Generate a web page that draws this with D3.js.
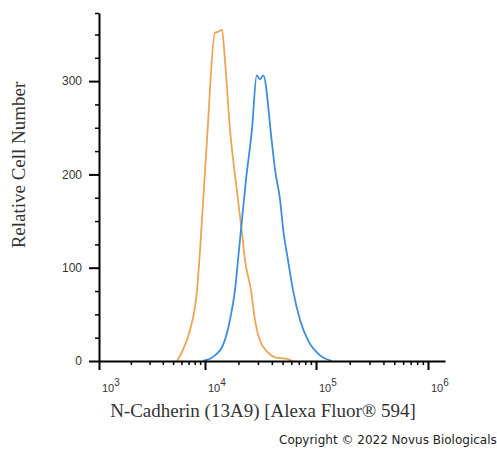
<!DOCTYPE html>
<html>
<head>
<meta charset="utf-8">
<script src="https://cdn.jsdelivr.net/npm/d3@7/dist/d3.min.js"></script>
<style>
  body { margin: 0; background: #fff; }
</style>
</head>
<body>
<svg id="chart"></svg>
<script>
// isotype control (orange) and N-Cadherin stained (blue) histograms
var orangeX = [5450, 6190, 7210, 8410, 8980, 10420, 12300, 13200, 14230,
               15140, 16790, 18630, 21410, 22920, 25950, 28200, 29400,
               31270, 36210, 42740, 55960, 60800];
var orangeY = [0, 12, 33, 76, 119, 237, 352, 353, 355,
               322, 248, 199, 140, 108, 76, 44, 33,
               22, 10, 4, 2, 0];

var blueX = [9570, 12300, 14530, 16790, 18630, 20240, 23390, 26480,
             29230, 31270, 33500, 39830, 42740, 47420, 50760, 55960,
             62100, 71800, 84800, 108600, 139000];
var blueY = [0, 6, 17, 44, 76, 119, 194, 248,
             306, 302, 306, 237, 205, 173, 140, 108,
             76, 44, 22, 6, 0];

var yMajor = [0, 100, 200, 300];
var yMinor = d3.range(25, 375, 25).filter(d => d % 100 != 0);
var xDecades = [3, 4, 5, 6];

var svgWidth = 497, svgHeight = 449;
var svg = d3.select("#chart")
  .attr("width", svgWidth)
  .attr("height", svgHeight)
  .style("font-family", "'Liberation Sans', Arial, sans-serif");

// flow cytometry axis, decades are not quite evenly spaced
var x = d3.scaleLog()
  .domain([1e3, 1e4, 1e5, 1e6, 1.42e6])
  .range([99, 205, 316, 428, 445]);

var y = d3.scaleLinear()
  .domain([0, 373])
  .range([361, 13]);

var xMinor = [];
[3, 4, 5].forEach(function(k) {
  for (var m = 2; m <= 9; m++) xMinor.push(m * Math.pow(10, k));
});

// curves
var line = d3.line()
  .curve(d3.curveMonotoneX)
  .x(d => x(d[0]))
  .y(d => y(d[1]));

svg.append("path")
  .datum(d3.zip(orangeX, orangeY))
  .attr("fill", "none")
  .attr("stroke", "#eea553")
  .attr("stroke-width", 1.8)
  .attr("stroke-linejoin", "round")
  .attr("d", line);

svg.append("path")
  .datum(d3.zip(blueX, blueY))
  .attr("fill", "none")
  .attr("stroke", "#3d8ede")
  .attr("stroke-width", 1.8)
  .attr("stroke-linejoin", "round")
  .attr("d", line);

// y axis
var yAxis = svg.append("g")
  .attr("transform", `translate(${x(1e3)},0)`)
  .call(d3.axisLeft(y).tickValues(yMajor).tickSize(10).tickSizeOuter(0).tickPadding(7));
yAxis.select(".domain").attr("stroke-width", 2);
yAxis.selectAll(".tick line").attr("stroke-width", 2);
yAxis.selectAll("text")
  .attr("fill", "#333")
  .attr("font-size", 12)
  .attr("font-family", "'Liberation Sans', Arial, sans-serif");

svg.append("g")
  .attr("transform", `translate(${x(1e3)},0)`)
  .call(d3.axisLeft(y).tickValues(yMinor.concat([373])).tickSize(4).tickFormat(""))
  .call(g => g.select(".domain").remove())
  .selectAll(".tick line").attr("stroke-width", 1.5);

// x axis
var xAxis = svg.append("g")
  .attr("transform", `translate(0,${y(0)})`)
  .call(d3.axisBottom(x).tickValues(xDecades.map(k => Math.pow(10, k))).tickSize(9).tickSizeOuter(0).tickFormat(""));
xAxis.select(".domain").attr("stroke-width", 2);
xAxis.selectAll(".tick line").attr("stroke-width", 2);

svg.append("g")
  .attr("transform", `translate(0,${y(0)})`)
  .call(d3.axisBottom(x).tickValues(xMinor).tickSize(4).tickFormat(""))
  .call(g => g.select(".domain").remove())
  .selectAll(".tick line").attr("stroke-width", 1.5);

var xLab = svg.append("g").selectAll("text")
  .data(xDecades)
  .enter()
  .append("text")
  .attr("x", d => x(Math.pow(10, d)) + 3)
  .attr("y", 392)
  .attr("fill", "#333")
  .attr("font-size", 11);
xLab.append("tspan").text("10");
xLab.append("tspan")
  .attr("dy", -6)
  .attr("font-size", 10)
  .text(d => d);

// axis titles
svg.append("text")
  .attr("x", 263)
  .attr("y", 417)
  .attr("text-anchor", "middle")
  .attr("font-family", "'Liberation Serif', 'Times New Roman', serif")
  .attr("font-size", 19)
  .attr("fill", "#333")
  .text("N-Cadherin (13A9) [Alexa Fluor® 594]");

svg.append("text")
  .attr("transform", "translate(25,165) rotate(-90)")
  .attr("text-anchor", "middle")
  .attr("font-family", "'Liberation Serif', 'Times New Roman', serif")
  .attr("font-size", 19)
  .attr("fill", "#333")
  .text("Relative Cell Number");

svg.append("text")
  .attr("x", 279)
  .attr("y", 444)
  .attr("font-family", "'DejaVu Sans', sans-serif")
  .attr("font-size", 12)
  .attr("fill", "#222")
  .text("Copyright © 2022 Novus Biologicals");
</script>
</body>
</html>
